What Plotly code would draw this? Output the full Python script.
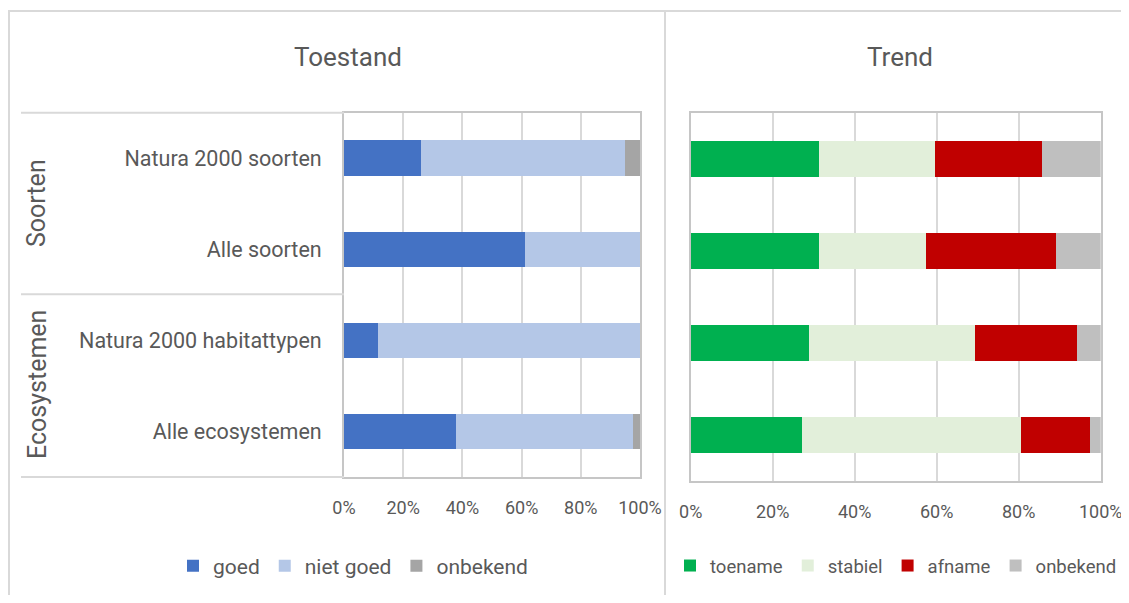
import plotly.graph_objects as go

# ---------------- data ----------------
categories = ["Natura 2000 soorten", "Alle soorten", "Natura 2000 habitattypen", "Alle ecosystemen"]
groups = ["Soorten", "Ecosystemen"]

toestand_series = ["goed", "niet goed", "onbekend"]
toestand_goed = [26, 61, 11.5, 38]
toestand_niet_goed = [69, 39, 88.5, 59.5]
toestand_onbekend = [5, 0, 0, 2.5]

trend_series = ["toename", "stabiel", "afname", "onbekend"]
trend_toename = [31.2, 31.2, 28.9, 27.1]
trend_stabiel = [28.4, 26.1, 40.4, 53.4]
trend_afname = [26.1, 31.8, 24.8, 16.9]
trend_onbekend = [14.3, 10.9, 5.9, 2.6]

tick_vals = [0, 20, 40, 60, 80, 100]
tick_text = ["0%", "20%", "40%", "60%", "80%", "100%"]

# ---------------- style ----------------
# page body has an 8px default margin: figure drawn at (8, 8)
OX, OY = 8, 8
W, H = 1129 - OX, 603 - 2 * OY
FONT = "Roboto, Arial, sans-serif"
TXT = "#595959"
GRID = "#d9d9d9"
FRAME = "#c6c6c6"

toestand_colors = ["#4472C4", "#B4C7E7", "#A5A5A5"]
trend_colors = ["#00B050", "#E2EFDA", "#C00000", "#BFBFBF"]


def px(x):
    return (x - OX) / W


def py(y):
    return 1 - (y - OY) / H


fig = go.Figure()

for name, vals, col in zip(toestand_series,
                           [toestand_goed, toestand_niet_goed, toestand_onbekend],
                           toestand_colors):
    fig.add_trace(go.Bar(x=vals, y=categories, orientation="h", name=name,
                         marker=dict(color=col, line=dict(width=0)),
                         xaxis="x", yaxis="y", legend="legend"))

for name, vals, col in zip(trend_series,
                           [trend_toename, trend_stabiel, trend_afname, trend_onbekend],
                           trend_colors):
    fig.add_trace(go.Bar(x=vals, y=categories, orientation="h", name=name,
                         marker=dict(color=col, line=dict(width=0)),
                         xaxis="x2", yaxis="y2", legend="legend2"))

xcommon = dict(range=[0, 100], tickvals=tick_vals, ticktext=tick_text,
               showgrid=True, gridcolor=GRID, gridwidth=1.5,
               showline=True, mirror=True, linecolor=FRAME, linewidth=2,
               ticks="", ticklabelstandoff=13, zeroline=False,
               tickfont=dict(family=FONT, size=18, color=TXT), fixedrange=True)

fig.update_layout(
    width=W, height=H,
    margin=dict(l=0, r=0, t=0, b=0, autoexpand=False),
    paper_bgcolor="white", plot_bgcolor="white",
    barmode="stack", bargap=0.61,
    font=dict(family=FONT, color=TXT),
    xaxis=dict(domain=[px(344), px(640)], anchor="y", **xcommon),
    yaxis=dict(domain=[py(477), py(112.7)], anchor="x", autorange="reversed",
               showline=True, mirror=True, linecolor=FRAME, linewidth=2,
               showgrid=False, ticks="", ticklabelstandoff=16,
               tickfont=dict(family=FONT, size=21.5, color=TXT), fixedrange=True),
    xaxis2=dict(domain=[px(690.7), px(1100.7)], anchor="y2", **xcommon),
    yaxis2=dict(domain=[py(481), py(113.3)], anchor="x2", autorange="reversed",
                showline=True, mirror=True, linecolor=FRAME, linewidth=2,
                showgrid=False, showticklabels=False, ticks="", fixedrange=True),
    legend=dict(orientation="h", x=px(353), xanchor="center", y=py(566), yanchor="middle",
                font=dict(family=FONT, size=21, color=TXT), itemwidth=30,
                bgcolor="rgba(0,0,0,0)", traceorder="normal"),
    legend2=dict(orientation="h", x=px(670), xanchor="left", y=py(566), yanchor="middle",
                 font=dict(family=FONT, size=18.5, color=TXT), itemwidth=30,
                 bgcolor="rgba(0,0,0,0)", traceorder="normal"),
)

# titles
fig.add_annotation(text="Toestand", x=px(348), y=py(57), xref="paper", yref="paper",
                   xanchor="center", yanchor="middle",
                   showarrow=False, font=dict(family=FONT, size=26, color=TXT))
fig.add_annotation(text="Trend", x=px(900), y=py(57), xref="paper", yref="paper",
                   xanchor="center", yanchor="middle",
                   showarrow=False, font=dict(family=FONT, size=26, color=TXT))

# group labels (rotated)
for g, yc in zip(groups, [203, 385]):
    fig.add_annotation(text=g, x=px(37), y=py(yc), xref="paper", yref="paper",
                       xanchor="center", yanchor="middle",
                       showarrow=False, textangle=-90,
                       font=dict(family=FONT, size=25, color=TXT))

# frame lines
line_style = dict(color=GRID, width=2)
shapes = [
    dict(type="line", xref="paper", yref="paper", x0=px(8), x1=1, y0=py(11), y1=py(11), line=line_style),
    dict(type="line", xref="paper", yref="paper", x0=px(9), x1=px(9), y0=py(11), y1=0, line=line_style),
    dict(type="line", xref="paper", yref="paper", x0=px(665), x1=px(665), y0=py(11), y1=0, line=line_style),
    dict(type="line", xref="paper", yref="paper", x0=px(21), x1=px(344), y0=py(112.7), y1=py(112.7), line=line_style),
    dict(type="line", xref="paper", yref="paper", x0=px(21), x1=px(344), y0=py(294.3), y1=py(294.3), line=line_style),
    dict(type="line", xref="paper", yref="paper", x0=px(21), x1=px(344), y0=py(477), y1=py(477), line=line_style),
]
fig.update_layout(shapes=shapes)

fig.write_html("out.html")
